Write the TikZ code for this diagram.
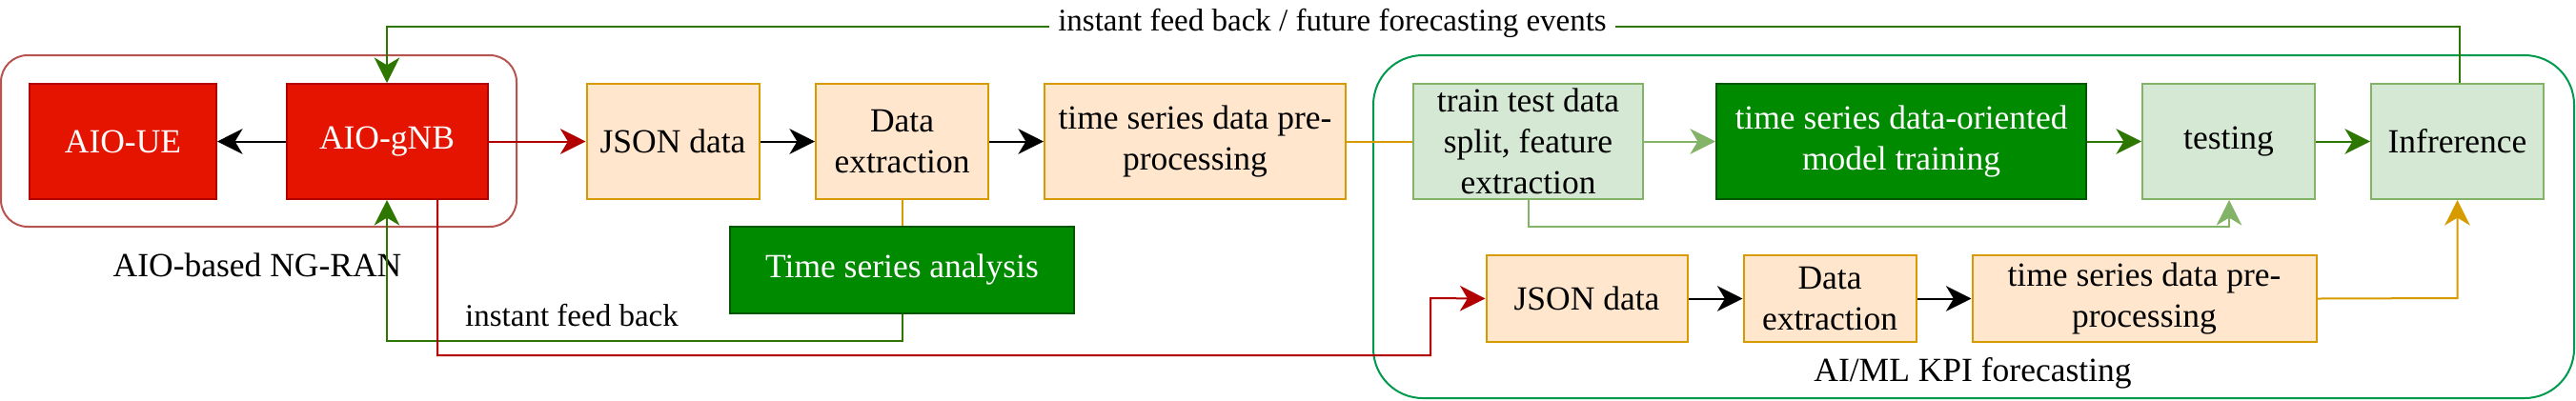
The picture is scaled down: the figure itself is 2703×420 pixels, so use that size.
\documentclass[tikz,border=0pt]{standalone}
\usepackage{fontspec}
\setmainfont{Liberation Serif}
\usetikzlibrary{arrows.meta,calc}
\definecolor{redfill}{HTML}{E51400}
\definecolor{redline}{HTML}{B20000}
\definecolor{redcont}{HTML}{B85450}
\definecolor{orfill}{HTML}{FFE6CC}
\definecolor{orline}{HTML}{D79B00}
\definecolor{lgfill}{HTML}{D5E8D4}
\definecolor{lgline}{HTML}{82B366}
\definecolor{dgfill}{HTML}{008A00}
\definecolor{dgline}{HTML}{005700}
\definecolor{fbline}{HTML}{2D7600}
\definecolor{gcont}{HTML}{00994D}
\tikzset{
  every node/.style={font=\fontsize{17.75}{21.5}\selectfont, align=center, inner sep=0pt},
  edgelabel/.style={font=\fontsize{16.5}{20}\selectfont, anchor=base},
  contlabel/.style={anchor=base},
  box/.style={rectangle, line width=1pt, minimum height=60.5pt},
  redbox/.style={box, fill=redfill, draw=redline, text=white},
  orbox/.style={box, fill=orfill, draw=orline},
  lgbox/.style={box, fill=lgfill, draw=lgline},
  dgbox/.style={box, fill=dgfill, draw=dgline, text=white},
  tip/.style={-{Stealth[length=13.3pt,width=13.3pt,inset=4pt]}},
  conn/.style={line width=1pt},
  blackarr/.style={conn, tip, draw=black},
  redarr/.style={conn, tip, draw=redline},
  fbarr/.style={conn, tip, draw=fbline},
  lgarr/.style={conn, tip, draw=lgline},
  orarr/.style={conn, tip, draw=orline},
  orlink/.style={conn, draw=orline},
  container/.style={line width=1pt},
}
\begin{document}
\begin{tikzpicture}[x=0.5pt,y=-0.5pt]
\useasboundingbox (0,0) rectangle (2703,420);
% containers
\draw[container, draw=redcont, rounded corners=14pt] (1,58) rectangle (542,238);
\draw[container, draw=gcont, rounded corners=26pt] (1441,58) rectangle (2701,418);
\node[contlabel] (lblran) at (270,290) {AIO-based NG-RAN};
\node[contlabel] (lblkpi) at (2070,400) {AI/ML KPI forecasting};
% nodes
\node[redbox, minimum width=98pt] (ue) at (129,148.5) {AIO-UE};
\node[redbox, minimum width=105.5pt] (gnb) at (406,148.5) {AIO-gNB};
\node[orbox, minimum width=90.5pt] (json1) at (706,148.5) {JSON data};
\node[orbox, minimum width=90.5pt] (de1) at (946.5,148.5) {Data\\extraction};
\node[orbox, minimum width=158pt] (tsp1) at (1254,148.5) {time series data pre-\\processing};
\node[dgbox, minimum width=180.5pt, minimum height=45.5pt] (tsa) at (946.5,283.5) {Time series analysis};
\node[lgbox, minimum width=120.5pt] (tt) at (1603.5,148.5) {train test data\\split, feature\\extraction};
\node[dgbox, minimum width=194pt] (mt) at (1995,148.5) {time series data-oriented\\model training};
\node[lgbox, minimum width=90.5pt] (test) at (2338.5,148.5) {testing};
\node[lgbox, minimum width=90.5pt] (inf) at (2578.5,148.5) {Infrerence};
\node[orbox, minimum width=105.5pt, minimum height=45.5pt] (json2) at (1665,313.5) {JSON data};
\node[orbox, minimum width=90.5pt, minimum height=45.5pt] (de2) at (1920,313.5) {Data\\extraction};
\node[orbox, minimum width=180.5pt, minimum height=45.5pt] (tsp2) at (2250,313.5) {time series data pre-\\processing};
% coordinates for routes
\coordinate (topr) at (2581,28);
\coordinate (fbl) at (406,358);
\coordinate (rdl) at (459,373);
\coordinate (rdr) at (1501,313);
\coordinate (lgr) at (2339,238);
\coordinate (orr) at (2578.5,313);
% connectors
\draw[blackarr] (gnb.west) -- (ue.east);
\draw[redarr] (gnb.east) -- (json1.west);
\draw[blackarr] (json1.east) -- (de1.west);
\draw[blackarr] (de1.east) -- (tsp1.west);
\draw[orlink] (de1.south) -- (tsa.north);
\draw[fbarr] (tsa.south) |- (fbl) -- (gnb.south);
\node[edgelabel] (lblfb) at (600,342) {instant feed back};
\draw[redarr] (gnb.south -| rdl) -- (rdl) -| (rdr) -- (json2.west);
\draw[orlink] (tsp1.east) -- (tt.west);
\draw[lgarr] (tt.east) -- (mt.west);
\draw[lgarr] (tt.south) |- (lgr) -- (test.south -| lgr);
\draw[fbarr] (mt.east) -- (test.west);
\draw[fbarr] (test.east) -- (inf.west);
\draw[blackarr] (json2.east) -- (de2.west);
\draw[blackarr] (de2.east) -- (tsp2.west);
\draw[orarr] (tsp2.east) -- (orr) -- (inf.south);
\draw[fbarr] (inf.north -| topr) -- (topr) -- (topr -| gnb.north) -- (gnb.north);
\node[edgelabel, fill=white, inner xsep=4.5pt, inner ysep=2pt] (lbltop) at (1398,32.5) {instant feed back / future forecasting events};
\end{tikzpicture}
\end{document}
